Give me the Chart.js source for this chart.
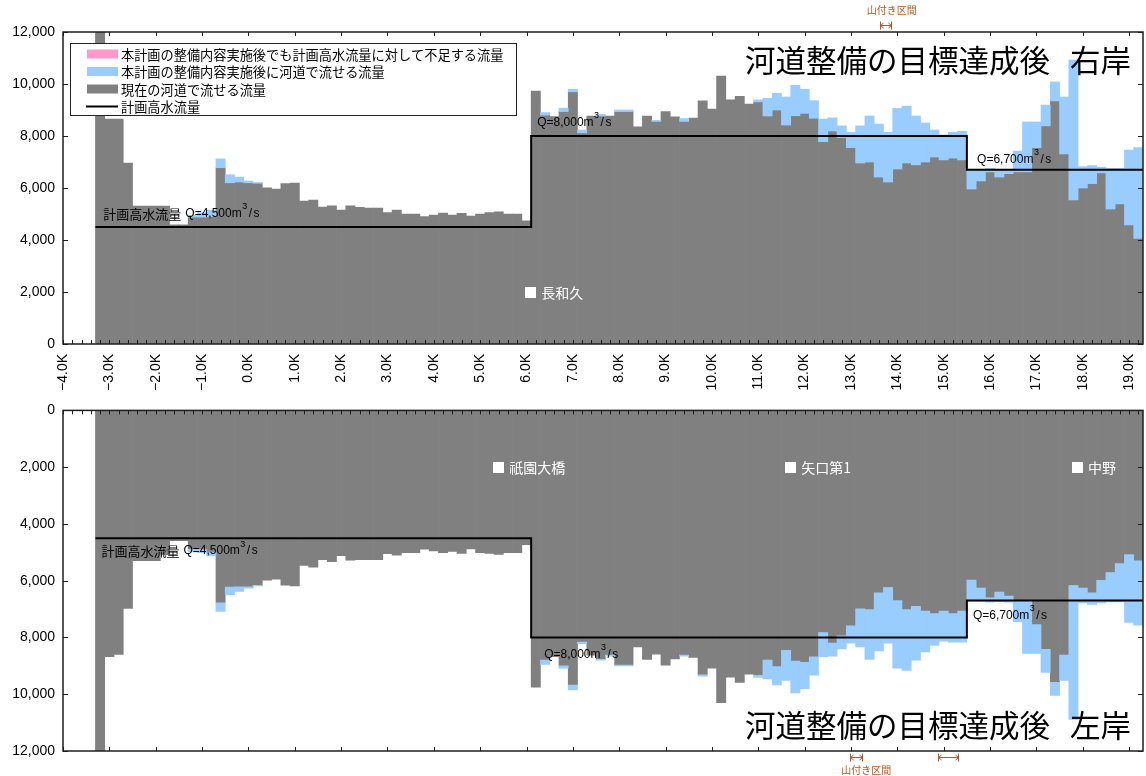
<!DOCTYPE html>
<html lang="ja">
<head>
<meta charset="utf-8">
<title>河道整備の目標達成後 流下能力</title>
<script src="https://cdn.jsdelivr.net/npm/chart.js@4.4.1/dist/chart.umd.min.js"></script>
<style>
  html, body { margin: 0; padding: 0; background: #fff; }
  #wrap { position: relative; width: 1146px; height: 776px; overflow: hidden; }
  #wrap canvas { position: absolute; left: 0; }
  #rightBank { top: 0; }
  #leftBank { top: 394px; }
</style>
</head>
<body>
<div id="wrap">
  <canvas id="rightBank" width="1146" height="400"></canvas>
  <canvas id="leftBank" width="1146" height="382"></canvas>
</div>
<script>
// Distance posts along the river (km), one bar per 200 m section
const distanceKm = Array.from({ length: 113 }, (_, i) => Math.round((-3.2 + 0.2 * i) * 10) / 10);

// Distance tick labels and flow ticks
const kmTickValues = [-4, -3, -2, -1, 0, 1, 2, 3, 4, 5, 6, 7, 8, 9, 10, 11, 12, 13, 14, 15, 16, 17, 18, 19];
const flowTickValues = [0, 2000, 4000, 6000, 8000, 10000, 12000];

// 計画高水流量 (design flood discharge), step line
const planStepKm = [-3.3, 6.1, 6.1, 15.5, 15.5, 19.3];
const planStepFlow = [4500, 4500, 8000, 8000, 6700, 6700];

// 右岸: 現在の河道で流せる流量 (m3/s)
const rightCurrent = [
  12500, 8650, 8650, 6960, 5300, 5300, 5300, 5300, 4580, 4580,
  4880, 4880, 4900, 6780, 6200, 6230, 6200, 6180, 6010, 5960,
  6170, 6190, 5500, 5540, 5270, 5310, 5150, 5310, 5260, 5230,
  5230, 5050, 5150, 5000, 5000, 4900, 4960, 5040, 4960, 5030,
  4920, 5000, 5050, 5080, 5000, 5000, 4740, 9730, 8800, 8750,
  8940, 9700, 8120, 8770, 8770, 8770, 8940, 8940, 8350, 8770,
  8560, 8940, 8740, 8560, 8690, 9350, 9040, 10300, 9390, 9530,
  9230, 9310, 8770, 9000, 8420, 8780, 8870, 8680, 7780, 8190,
  7940, 7550, 6960, 7000, 6420, 6230, 6730, 6960, 6890, 7000,
  7190, 7080, 7150, 7080, 5960, 6270, 6620, 6420, 6550, 6620,
  6620, 7550, 8390, 9350, 7310, 5540, 6000, 6170, 6580, 5190,
  5390, 4580, 4060
];
// 右岸: 本計画の整備内容実施後に河道で流せる流量 (null = no increase)
const rightImproved = [
  null, null, null, null, null, null, null, null, null, null,
  4950, 5050, 5150, 7120, 6510, 6420, 6270, 6210, null, null,
  null, null, null, null, null, null, null, null, null, null,
  null, null, null, null, null, null, null, null, null, null,
  null, null, null, null, null, null, null, null, 8900, null,
  9070, 9800, 8230, null, 8830, null, 9000, 9000, null, null,
  8600, null, null, 8670, null, null, null, null, null, null,
  null, 9390, 9450, 9640, 9500, 9950, 9800, 9360, 8650, 8700,
  8390, 8140, 8390, 8770, 8460, 8140, 9060, 9150, 8770, 8500,
  8230, 8040, 8140, 8180, 6720, 6720, 6750, 6720, 6720, 7420,
  8540, 8540, 9190, 10080, 9500, 10920, 6820, 6860, 6800, 6750,
  6750, 7460, 7550
];

// 左岸: 現在の河道で流せる流量 (m3/s)
const leftCurrent = [
  12500, 8680, 8600, 6975, 5290, 5290, 5290, 5080, 4590, 4590,
  4900, 4900, 4990, 6780, 6225, 6220, 6220, 6160, 5980, 5950,
  6155, 6180, 5460, 5520, 5260, 5330, 5120, 5280, 5260, 5260,
  5260, 5050, 5100, 5010, 5010, 4890, 4950, 5010, 4970, 5040,
  4880, 5010, 5040, 5070, 5010, 5010, 4730, 9750, 8800, 8680,
  9000, 9680, 8160, 8620, 8770, 8620, 8970, 8970, 8330, 8770,
  8590, 8980, 8760, 8620, 8700, 9320, 9080, 10300, 9400, 9580,
  9290, 9330, 8800, 9030, 8450, 8830, 8880, 8680, 7830, 8200,
  7940, 7590, 6990, 7020, 6430, 6240, 6700, 7020, 6900, 7070,
  7160, 7070, 7160, 7070, 5980, 6260, 6600, 6400, 6540, 6720,
  6720, 7550, 8420, 9580, 8620, 6170, 6260, 6430, 5990, 5710,
  5400, 5080, 5300
];
// 左岸: 本計画の整備内容実施後に河道で流せる流量 (null = no increase)
const leftImproved = [
  null, null, null, null, null, null, null, null, null, null,
  4990, 5010, 5130, 7080, 6490, 6375, 6260, 6180, null, null,
  null, null, null, null, null, null, null, null, null, null,
  null, null, null, null, null, null, null, null, null, null,
  null, null, null, null, null, null, null, null, 8950, null,
  9080, 9850, 8220, null, 8800, 8660, 9000, 9000, null, null,
  null, null, null, 8660, null, 9360, null, null, null, null,
  null, 9410, 9460, 9670, 9510, 9950, 9800, 9330, 8680, 8660,
  8400, 8200, 8330, 8770, 8470, 8200, 9080, 9160, 8800, 8510,
  8280, 8130, 8170, 8170, 6720, 6720, 6760, 6740, 6760, 7440,
  8560, 8560, 9230, 10040, 9510, 10890, 6780, 6840, 6780, 6750,
  6750, 7470, 7570
];

// Station names and where they sit (km, m3/s)
const rightStations = [{ name: '長和久', km: 5.97, flow: 2000 }];
const leftStations = [
  { name: '祇園大橋', km: 5.28, flow: 2000 },
  { name: '矢口第1', km: 11.58, flow: 2000 },
  { name: '中野', km: 17.77, flow: 2000 }
];

// 山付き区間 (hillside reaches), km ranges
const rightHillside = [[13.63, 13.87]];
const leftHillside = [[12.98, 13.24], [14.88, 15.31]];

const COLORS = { shortage: '#ff99cc', improved: '#99ccff', current: '#808080', plan: '#000000', hill: '#c0561c' };
const FONT_LATIN = '"Liberation Sans", Arial, sans-serif';
const FONT_JP = '"Noto Sans CJK JP", "Noto Sans", sans-serif';

const LEGEND_LABELS = [
  '本計画の整備内容実施後でも計画高水流量に対して不足する流量',
  '本計画の整備内容実施後に河道で流せる流量',
  '現在の河道で流せる流量',
  '計画高水流量'
];

function planAt(km) {
  for (let i = planStepKm.length - 1; i > 0; i--) {
    if (km >= planStepKm[i - 1] && planStepFlow[i - 1] === planStepFlow[i] && km <= planStepKm[i]) return planStepFlow[i];
  }
  return null;
}

function kmLabel(v) {
  return (v < 0 ? '\u2212' : '') + Math.abs(v).toFixed(1) + 'K';
}

function drawFlowLabel(ctx, px, py, prefix, amount) {
  ctx.fillStyle = '#000';
  ctx.textAlign = 'left';
  ctx.textBaseline = 'middle';
  let cx = px;
  if (prefix) {
    ctx.font = '13px ' + FONT_JP;
    ctx.fillText(prefix, cx, py);
    cx += ctx.measureText(prefix).width + 4;
  }
  ctx.font = '12px ' + FONT_LATIN;
  const main = 'Q=' + amount.toLocaleString('en-US') + 'm';
  ctx.fillText(main, cx, py);
  cx += ctx.measureText(main).width + 0.5;
  ctx.font = '9px ' + FONT_LATIN;
  ctx.fillText('3', cx, py - 7);
  cx += ctx.measureText('3').width + 1.5;
  ctx.font = '12px ' + FONT_LATIN;
  ctx.fillText('/', cx, py);
  cx += ctx.measureText('/').width + 1.5;
  ctx.fillText('s', cx, py);
}

function drawHillside(ctx, xScale, ranges, y) {
  ctx.strokeStyle = COLORS.hill;
  ctx.lineWidth = 1;
  ranges.forEach(([a, b]) => {
    const x1 = Math.round(xScale.getPixelForValue(a)) + 0.5;
    const x2 = Math.round(xScale.getPixelForValue(b)) + 0.5;
    ctx.beginPath();
    ctx.moveTo(x1, y - 4); ctx.lineTo(x1, y + 4);
    ctx.moveTo(x2, y - 4); ctx.lineTo(x2, y + 4);
    ctx.moveTo(x1, y); ctx.lineTo(x2, y);
    ctx.moveTo(x1 + 3, y - 2.5); ctx.lineTo(x1, y); ctx.lineTo(x1 + 3, y + 2.5);
    ctx.moveTo(x2 - 3, y - 2.5); ctx.lineTo(x2, y); ctx.lineTo(x2 - 3, y + 2.5);
    ctx.stroke();
  });
}

function decorations(cfg) {
  return {
    id: 'decor',
    afterDatasetsDraw(chart) {
      const { ctx, chartArea: a } = chart;
      const xs = chart.scales.x, ys = chart.scales.y;
      ctx.save();

      // plot frame
      ctx.strokeStyle = '#1e1e1e';
      ctx.lineWidth = 1.5;
      ctx.strokeRect(a.left, a.top, a.right - a.left, a.bottom - a.top);

      // inward tick marks
      ctx.lineWidth = 1;
      ctx.beginPath();
      const baseY = cfg.reverse ? a.top : a.bottom;
      const farY = cfg.reverse ? a.bottom : a.top;
      const dir = cfg.reverse ? 1 : -1;
      for (let i = 0; i <= 116; i++) {
        const px = Math.round(xs.getPixelForValue(-4 + 0.2 * i)) + 0.5;
        ctx.moveTo(px, baseY); ctx.lineTo(px, baseY + dir * 4);
      }
      kmTickValues.forEach(v => {
        const px = Math.round(xs.getPixelForValue(v)) + 0.5;
        ctx.moveTo(px, farY); ctx.lineTo(px, farY - dir * 4);
      });
      flowTickValues.forEach(v => {
        const py = Math.round(ys.getPixelForValue(v)) + 0.5;
        ctx.moveTo(a.left, py); ctx.lineTo(a.left + 5, py);
        ctx.moveTo(a.right, py); ctx.lineTo(a.right - 5, py);
      });
      ctx.stroke();

      // design discharge labels
      cfg.flowLabels.forEach(l => {
        const px = xs.getPixelForValue(l.km);
        const py = ys.getPixelForValue(planStepFlow[l.idx]) + l.dy;
        drawFlowLabel(ctx, px, py, l.prefix, planStepFlow[l.idx]);
      });

      // stations
      cfg.stations.forEach(s => {
        const px = xs.getPixelForValue(s.km);
        const py = ys.getPixelForValue(s.flow);
        ctx.fillStyle = '#fff';
        ctx.fillRect(Math.round(px), Math.round(py) - 5, 11, 11);
        ctx.font = '14px ' + FONT_JP;
        ctx.textAlign = 'left';
        ctx.textBaseline = 'middle';
        ctx.fillText(s.name, px + 16, py + 1);
      });

      // title
      ctx.fillStyle = '#000';
      ctx.font = '30.5px ' + FONT_JP;
      ctx.textBaseline = 'middle';
      ctx.textAlign = 'right';
      ctx.fillText('河道整備の目標達成後', 1050, cfg.titleY);
      ctx.textAlign = 'left';
      ctx.fillText(cfg.bank, 1070, cfg.titleY);

      // hillside reaches
      drawHillside(ctx, xs, cfg.hillside, cfg.hillY);
      ctx.fillStyle = COLORS.hill;
      ctx.font = '10px ' + FONT_JP;
      ctx.textAlign = 'center';
      ctx.textBaseline = 'middle';
      ctx.fillText('山付き区間', xs.getPixelForValue(cfg.hillLabelKm), cfg.hillLabelY);

      // legend
      if (cfg.legend) {
        const lx = 70.5, ly = 43.5;
        ctx.fillStyle = '#fff';
        ctx.fillRect(lx, ly, 446, 72);
        ctx.strokeStyle = '#222';
        ctx.lineWidth = 1;
        ctx.strokeRect(lx, ly, 446, 72);
        const rows = [54, 71.5, 89, 106.5];
        const fills = [COLORS.shortage, COLORS.improved, COLORS.current];
        fills.forEach((c, i) => {
          ctx.fillStyle = c;
          ctx.fillRect(87, rows[i] - 4.5, 31, 9);
        });
        ctx.strokeStyle = COLORS.plan;
        ctx.lineWidth = 2;
        ctx.beginPath();
        ctx.moveTo(86, rows[3]); ctx.lineTo(118, rows[3]);
        ctx.stroke();
        ctx.fillStyle = '#000';
        ctx.font = '13.2px ' + FONT_JP;
        ctx.textAlign = 'left';
        ctx.textBaseline = 'middle';
        LEGEND_LABELS.forEach((t, i) => ctx.fillText(t, 121, rows[i] + 0.5));
      }
      ctx.restore();
    }
  };
}

function buildChart(canvasId, current, improved, cfg) {
  const currentPts = distanceKm.map((x, i) => ({ x, y: current[i] }));
  const improvedPts = [];
  const shortagePts = [];
  distanceKm.forEach((x, i) => {
    if (improved[i] != null) improvedPts.push({ x, y: [current[i], improved[i]] });
    const capacity = improved[i] != null ? improved[i] : current[i];
    const plan = planAt(x);
    if (plan != null && capacity < plan) shortagePts.push({ x, y: [capacity, plan] });
  });
  const planPts = planStepKm.map((x, i) => ({ x, y: planStepFlow[i] }));

  const barCommon = { grouped: false, barPercentage: 1, categoryPercentage: 1, borderWidth: 0 };

  return new Chart(document.getElementById(canvasId), {
    type: 'bar',
    data: {
      datasets: [
        { type: 'line', label: LEGEND_LABELS[3], data: planPts, borderColor: COLORS.plan, borderWidth: 2,
          pointRadius: 0, tension: 0, fill: false, order: 0 },
        Object.assign({ label: LEGEND_LABELS[0], data: shortagePts, backgroundColor: COLORS.shortage, order: 1 }, barCommon),
        Object.assign({ label: LEGEND_LABELS[1], data: improvedPts, backgroundColor: COLORS.improved, order: 2 }, barCommon),
        Object.assign({ label: LEGEND_LABELS[2], data: currentPts, backgroundColor: COLORS.current, order: 3 }, barCommon)
      ]
    },
    options: {
      responsive: false,
      animation: false,
      devicePixelRatio: 1,
      layout: { padding: { left: 0, right: 3, top: cfg.padTop, bottom: 0 } },
      plugins: { legend: { display: false }, tooltip: { enabled: false }, title: { display: false } },
      scales: {
        x: {
          type: 'linear', min: -4, max: 19.3, offset: false,
          grid: { display: false, drawTicks: false, offset: false },
          border: { display: false },
          afterBuildTicks: s => { s.ticks = kmTickValues.map(v => ({ value: v })); },
          afterFit: s => { s.height = cfg.xAxisHeight; s.paddingLeft = 0; s.paddingRight = 0; },
          ticks: {
            display: cfg.showKm, autoSkip: false, minRotation: 90, maxRotation: 90, padding: 10,
            color: '#000', font: { family: FONT_LATIN, size: 14 },
            callback: v => kmLabel(v)
          }
        },
        y: {
          type: 'linear', min: 0, max: 12000, reverse: cfg.reverse,
          grid: { display: false, drawTicks: false },
          border: { display: false },
          afterBuildTicks: s => { s.ticks = flowTickValues.map(v => ({ value: v })); },
          afterFit: s => { s.width = 63; },
          ticks: {
            padding: 8, color: '#000', font: { family: FONT_LATIN, size: 14 },
            callback: v => Number(v).toLocaleString('en-US')
          }
        }
      }
    },
    plugins: [decorations(cfg)]
  });
}

buildChart('rightBank', rightCurrent, rightImproved, {
  bank: '右岸', reverse: false, padTop: 32, xAxisHeight: 56, showKm: true, legend: true,
  titleY: 60,
  stations: rightStations,
  flowLabels: [
    { km: -3.13, idx: 0, dy: -13, prefix: '計画高水流量' },
    { km: 6.23, idx: 2, dy: -13, prefix: '' },
    { km: 15.72, idx: 4, dy: -10, prefix: '' }
  ],
  hillside: rightHillside, hillY: 25.5, hillLabelKm: 13.88, hillLabelY: 10
});

buildChart('leftBank', leftCurrent, leftImproved, {
  bank: '左岸', reverse: true, padTop: 9, xAxisHeight: 25, showKm: false, legend: false,
  titleY: 331,
  stations: leftStations,
  flowLabels: [
    { km: -3.17, idx: 0, dy: 13, prefix: '計画高水流量' },
    { km: 6.38, idx: 2, dy: 17, prefix: '' },
    { km: 15.63, idx: 4, dy: 15, prefix: '' }
  ],
  hillside: leftHillside, hillY: 363.5, hillLabelKm: 13.33, hillLabelY: 376
});
</script>
</body>
</html>
